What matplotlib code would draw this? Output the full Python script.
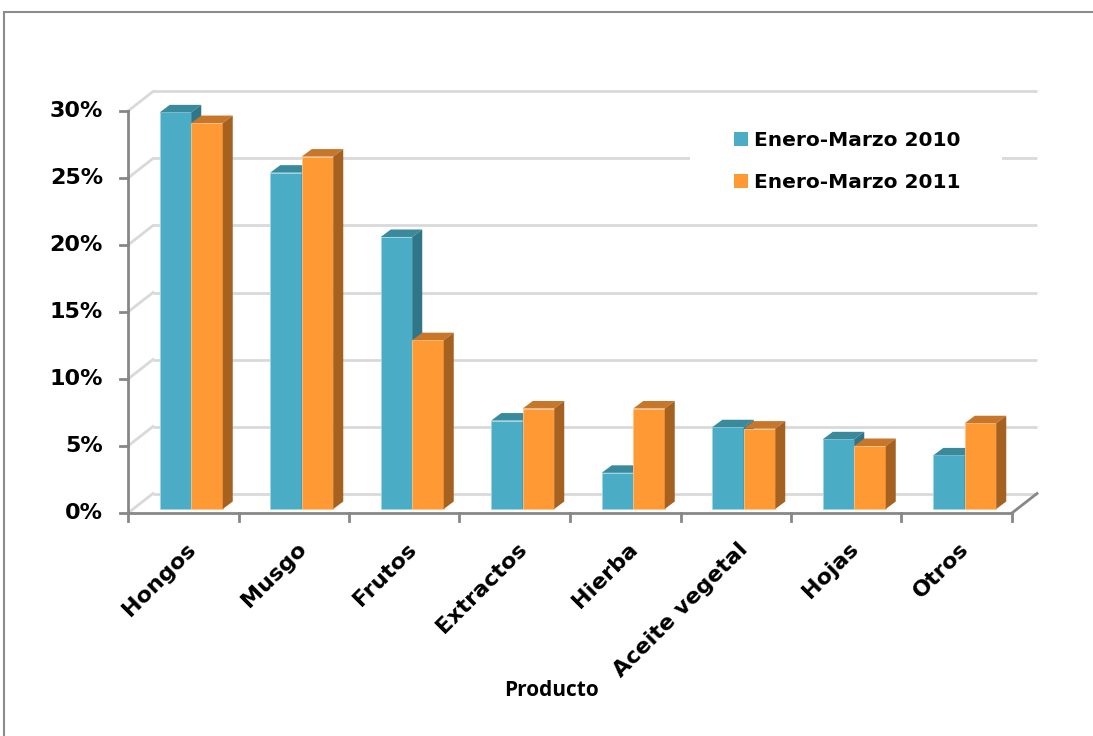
import matplotlib
matplotlib.use("Agg")
import matplotlib.pyplot as plt
from matplotlib.patches import Polygon, Rectangle, Patch

# ---- data -------------------------------------------------------------
categories = ["Hongos", "Musgo", "Frutos", "Extractos", "Hierba",
              "Aceite vegetal", "Hojas", "Otros"]
series_names = ["Enero-Marzo 2010", "Enero-Marzo 2011"]
values_2010 = [29.6, 25.1, 20.3, 6.6, 2.7, 6.1, 5.2, 4.0]
values_2011 = [28.8, 26.3, 12.6, 7.5, 7.5, 6.0, 4.7, 6.4]
y_ticks = [0, 5, 10, 15, 20, 25, 30]
y_tick_labels = ["0%", "5%", "10%", "15%", "20%", "25%", "30%"]

# ---- styling ------------------------------------------------------------
W, H, DPI = 1093, 736, 100
PX_PER_CAT = 110.5          # pixels per category on the front axis
PX_PER_PCT = 13.4           # pixels per percentage point
AX_LEFT_PX, AX_BASE_PX = 128, 513

front = {"2010": "#4BACC6", "2011": "#FF9933"}
top = {"2010": "#3A8A9E", "2011": "#C8772A"}
side = {"2010": "#2F7689", "2011": "#A5611F"}
edge = {"2010": "#9ED6E6", "2011": "#FFC58A"}

def dx(px):
    return px / PX_PER_CAT

def dy(px):
    return px / PX_PER_PCT

wall_dx, wall_dy = dx(25), dy(19.5)      # depth of the back wall
plane_dx, plane_dy = dx(8), dy(4)        # front face of the bars
bar_dx, bar_dy = dx(10), dy(7.5)         # bar depth
bar_w = dx(31.5)

fig = plt.figure(figsize=(W / DPI, H / DPI), dpi=DPI)
ax = fig.add_axes([0, 0, 1, 1])
x0 = -0.5 - AX_LEFT_PX / PX_PER_CAT
y0 = -(H - AX_BASE_PX) / PX_PER_PCT
ax.set_xlim(x0, x0 + W / PX_PER_CAT)
ax.set_ylim(y0, y0 + H / PX_PER_PCT)
ax.axis("off")

n = len(categories)
xl, xr = -0.5, n - 0.5
grid_c, axis_c = "#D9D9D9", "#878787"

# chart frame
ax.add_patch(Rectangle((x0 + dx(4), y0 - 5), 20, dy(736 - 12) + 5,
                       fill=False, ec="#8C8C8C", lw=1.5, zorder=0))

# back wall gridlines and side wall diagonals
for v in y_ticks:
    ax.plot([xl + wall_dx, xr + wall_dx], [v + wall_dy, v + wall_dy],
            color=grid_c, lw=2, zorder=1, solid_capstyle="butt")
    ax.plot([xl, xl + wall_dx], [v, v + wall_dy], color=grid_c, lw=2, zorder=1)

# front axes, floor edge and ticks
ax.plot([xl, xr], [0, 0], color=axis_c, lw=2, zorder=2)
ax.plot([xr, xr + wall_dx], [0, wall_dy], color=axis_c, lw=2, zorder=2)
ax.plot([xl, xl], [0, y_ticks[-1]], color=axis_c, lw=2, zorder=2)
for v, lab in zip(y_ticks, y_tick_labels):
    ax.plot([xl - dx(8), xl], [v, v], color=axis_c, lw=2, zorder=2)
    ax.text(xl - dx(25), v, lab, ha="right", va="center",
            fontsize=16, fontweight="bold", family="DejaVu Sans")
for i in range(n + 1):
    ax.plot([xl + i, xl + i], [0, -dy(8)], color=axis_c, lw=2, zorder=2)

# bars with top and side faces
for i in range(n):
    for k, (key, vals) in enumerate((("2010", values_2010), ("2011", values_2011))):
        left = i + plane_dx - bar_w + k * bar_w
        v = vals[i]
        base = plane_dy
        ax.bar(left, v, width=bar_w, bottom=base, align="edge",
               color=front[key], ec=edge[key], lw=0.6, zorder=5 + k)
        t = base + v
        ax.add_patch(Polygon([(left, t), (left + bar_w, t),
                              (left + bar_w + bar_dx, t + bar_dy),
                              (left + bar_dx, t + bar_dy)],
                             closed=True, fc=top[key], ec="none", zorder=5 + k))
        ax.add_patch(Polygon([(left + bar_w, base), (left + bar_w, t),
                              (left + bar_w + bar_dx, t + bar_dy),
                              (left + bar_w + bar_dx, base + bar_dy)],
                             closed=True, fc=side[key], ec="none", zorder=5 + k))

# category labels
for i, c in enumerate(categories):
    ax.text(i + dx(2), -dy(26), c, rotation=45, ha="right", va="top",
            rotation_mode="anchor", fontsize=16, fontweight="bold",
            family="DejaVu Sans")

ax.text(3.5 - dx(19), -dy(177), "Producto", ha="center", va="center",
        fontsize=15, fontweight="bold", family="Open Sans")

# legend area (white panel over the back wall) and legend
ax.add_patch(Rectangle((x0 + dx(690), 30 + wall_dy - dy(100 - 91.5)),
                       dx(312), -dy(112), fc="white", ec="none", zorder=3))
handles = [Patch(fc=front["2010"], ec="none"), Patch(fc=front["2011"], ec="none")]
leg = ax.legend(handles, series_names, loc="upper left",
                bbox_to_anchor=(706 / W, 1 - 103 / H), frameon=False,
                handlelength=0.7, handleheight=0.7,
                handletextpad=0.3, labelspacing=1.15, borderpad=0.9,
                prop={"family": "DejaVu Sans", "weight": "bold", "size": 14.5})
leg.set_zorder(4)

fig.savefig("out.png", dpi=DPI)
